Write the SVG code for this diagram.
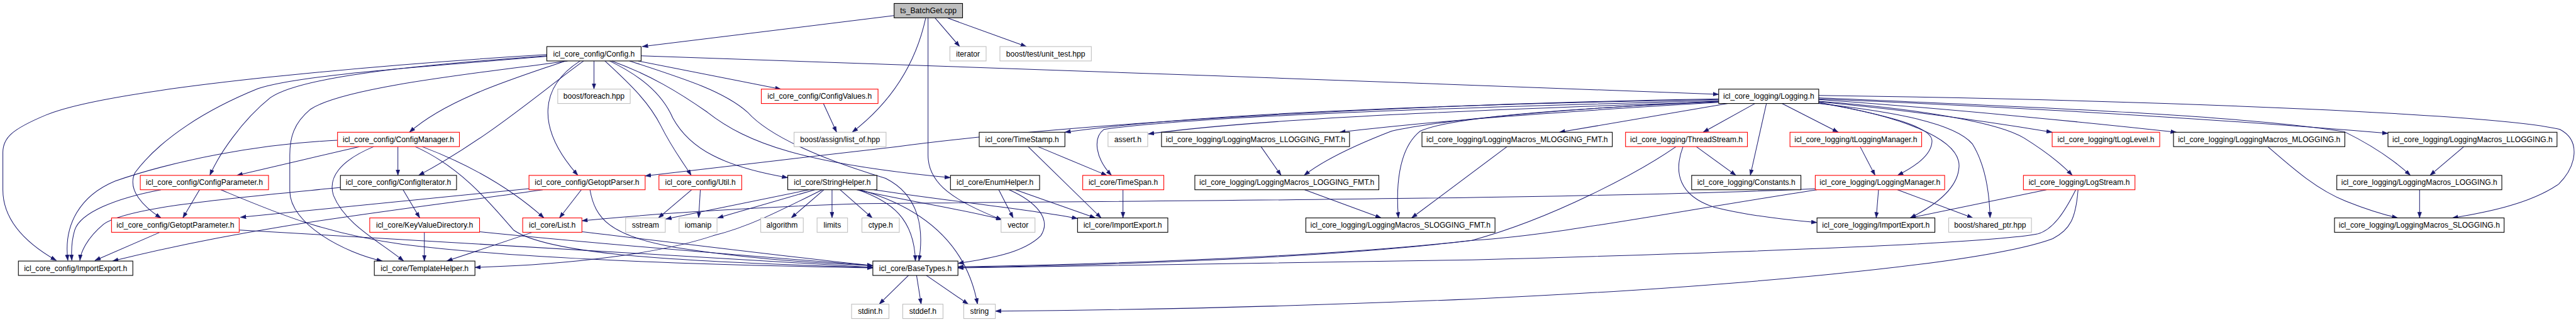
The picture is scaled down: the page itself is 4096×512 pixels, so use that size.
<svg xmlns="http://www.w3.org/2000/svg" width="4096" height="512" viewBox="0 0 4096 512">
<defs>
<style>
.n rect{fill:#fff;stroke:#000;stroke-width:1.2}
.n.red rect{stroke:#ff0000}
.n.ext rect{stroke:#bfbfbf}
.n.root rect{fill:#bfbfbf}
.n text{font-family:"Liberation Sans",Arial,sans-serif;font-size:13.3px;text-anchor:middle;fill:#000}
#edges path{fill:none;stroke:#191970;stroke-width:1.1;marker-end:url(#a)}
</style>
<marker id="a" markerUnits="userSpaceOnUse" markerWidth="11" markerHeight="8" refX="10" refY="3.5" orient="auto"><path d="M0,0 L10,3.5 L0,7 z" fill="#191970" stroke="#191970" stroke-width="0.5"/></marker>
</defs>
<rect width="4096" height="512" fill="#fff"/>
<g transform="scale(0.9142857)">
<g id="edges">
<path d="M1555,27 L1117,81"/>
<path d="M1610,31 C1595,100 1560,170 1482,230"/>
<path d="M1626,31 L1669,81"/>
<path d="M1647,31 L1785,81"/>
<path d="M1614,31 L1614,270 C1614,320 1660,350 1742,382"/>
<path d="M951,95 C700,110 200,150 80,200 C20,225 5,240 5,265 L5,330 C5,380 40,420 98,453"/>
<path d="M951,97 C700,115 520,135 470,170 C420,210 380,270 365,305"/>
<path d="M951,98 C750,115 520,130 449,154 C360,190 280,240 235,300 C220,330 250,360 280,379"/>
<path d="M987,106 C850,125 600,150 540,190 C510,215 504,240 504,270 L504,332 C504,390 600,440 665,454"/>
<path d="M983,106 C900,135 780,170 712,230"/>
<path d="M1015,106 C940,160 850,240 728,305"/>
<path d="M1009,106 C940,150 930,220 1005,305"/>
<path d="M1033,106 L1033,155"/>
<path d="M1052,106 C1100,150 1130,180 1150,220 C1170,260 1190,285 1202,305"/>
<path d="M1060,106 C1110,130 1150,160 1170,205 C1200,260 1260,290 1370,309"/>
<path d="M1064,106 C1130,130 1180,160 1230,195 C1300,250 1400,285 1653,309"/>
<path d="M1095,106 C1200,140 1260,160 1300,195 C1340,240 1440,280 1540,310 C1600,340 1607,400 1598,454"/>
<path d="M1110,106 L1358,155"/>
<path d="M1115,97 C1500,110 2500,145 2989,164"/>
<path d="M587,244 C450,250 300,280 200,315 C140,340 110,390 118,453"/>
<path d="M625,255 L412,305"/>
<path d="M692,255 L692,305"/>
<path d="M734,255 C800,280 880,320 946,379"/>
<path d="M722,255 C800,290 850,350 893,400 C950,440 1150,455 1518,465"/>
<path d="M650,255 C590,280 570,310 580,340 C600,390 660,420 702,454"/>
<path d="M280,330 C200,345 140,370 130,400 C124,420 124,440 125,453"/>
<path d="M347,330 L318,379"/>
<path d="M384,330 C480,370 560,405 700,425 C900,450 1200,460 1518,466"/>
<path d="M278,404 L165,453"/>
<path d="M416,400 C600,410 1100,440 1518,465"/>
<path d="M592,326 C400,345 220,360 180,390 C150,415 140,440 139,453"/>
<path d="M701,330 L730,379"/>
<path d="M920,328 L418,378"/>
<path d="M944,330 C700,365 450,390 196,454"/>
<path d="M1011,330 L973,379"/>
<path d="M1026,330 C1035,380 1060,410 1173,430 C1300,450 1420,458 1518,462"/>
<path d="M738,404 L738,454"/>
<path d="M834,403 C1000,420 1300,445 1518,462"/>
<path d="M926,404 L777,454"/>
<path d="M1012,403 C1200,425 1400,450 1518,462"/>
<path d="M1203,330 L1145,379"/>
<path d="M1218,330 L1215,379"/>
<path d="M1407,330 L1158,381"/>
<path d="M1417,330 L1248,379"/>
<path d="M1430,330 C1350,370 1300,395 1240,410 C1150,440 1000,460 826,465"/>
<path d="M1433,330 L1376,379"/>
<path d="M1447,330 L1447,379"/>
<path d="M1461,330 L1517,379"/>
<path d="M1490,330 C1580,350 1680,365 1743,382"/>
<path d="M1520,330 C1650,350 1800,365 1874,380"/>
<path d="M1492,330 C1550,350 1590,380 1592,454"/>
<path d="M1496,330 C1600,360 1680,420 1700,529"/>
<path d="M1737,330 L1762,379"/>
<path d="M1766,330 L1905,379"/>
<path d="M1755,330 C1800,350 1830,380 1810,410 C1780,440 1720,450 1666,458"/>
<path d="M1805,255 L1925,305"/>
<path d="M1788,255 L1915,379"/>
<path d="M1953,330 L1953,379"/>
<path d="M1432,180 L1455,230"/>
<path d="M2989,172 C2500,180 1900,210 1560,255 C1400,275 1250,290 1122,306"/>
<path d="M2989,173 C2600,180 2100,195 1852,230"/>
<path d="M2989,175 C2600,185 2100,200 1920,225 C1900,240 1905,275 1933,305"/>
<path d="M2989,177 C2600,190 2200,205 1997,233"/>
<path d="M2989,178 C2700,195 2500,210 2330,230"/>
<path d="M2989,176 C2700,190 2500,210 2420,228 C2350,255 2300,280 2268,305"/>
<path d="M2989,177 C2700,190 2520,205 2470,228 C2430,260 2428,330 2432,379"/>
<path d="M3005,180 L2712,230"/>
<path d="M3052,180 L2962,230"/>
<path d="M3072,180 L3044,305"/>
<path d="M3099,180 L3197,230"/>
<path d="M3163,178 C3280,200 3360,220 3360,245 C3360,270 3330,290 3300,305"/>
<path d="M3163,179 C3300,200 3410,240 3407,290 C3405,330 3360,360 3322,379"/>
<path d="M3163,180 C3300,195 3400,215 3430,250 C3455,290 3460,340 3461,379"/>
<path d="M3163,176 C3350,190 3480,215 3520,240 C3560,265 3585,285 3604,305"/>
<path d="M3163,177 C3350,195 3480,215 3569,230"/>
<path d="M3163,173 C3400,190 3650,215 3785,230"/>
<path d="M3163,172 C3600,190 3950,215 4153,232"/>
<path d="M3163,170 C3500,185 3900,200 4077,229 C4130,255 4165,280 4192,305"/>
<path d="M3163,166 C3800,175 4350,200 4452,225 C4490,245 4480,290 4450,320 C4400,355 4320,370 4265,379"/>
<path d="M2950,255 L3019,305"/>
<path d="M2927,255 C2910,300 2920,340 2980,360 C3040,375 3100,382 3160,387"/>
<path d="M2915,255 C2850,300 2700,380 2560,418 C2300,450 1900,462 1666,465"/>
<path d="M3235,255 L3261,305"/>
<path d="M3267,330 L3263,379"/>
<path d="M3300,330 L3431,379"/>
<path d="M3160,328 C2800,345 2000,350 1500,354 C1300,360 1100,375 1012,384"/>
<path d="M3160,330 C2900,370 2700,410 2560,418 C2300,448 1900,460 1666,464"/>
<path d="M3559,330 L3322,379"/>
<path d="M3610,330 C3590,370 3570,400 3543,407 C3450,425 3000,440 2560,452 C2200,460 1900,465 1666,466"/>
<path d="M3614,330 C3610,380 3600,400 3570,415 C3450,460 3000,500 2560,520 C2200,535 1900,540 1731,541"/>
<path d="M2621,255 L2455,379"/>
<path d="M2193,255 L2228,305"/>
<path d="M2269,330 L2402,379"/>
<path d="M3944,255 C3990,295 4030,330 4080,350 C4110,362 4140,372 4170,379"/>
<path d="M4285,255 L4226,305"/>
<path d="M4208,330 L4208,379"/>
<path d="M1580,479 L1529,529"/>
<path d="M1594,479 L1602,529"/>
<path d="M1611,479 L1684,529"/>
</g>
<g id="n_ts" class="n root"><rect x="1555" y="6" width="119" height="25"/><text x="1614.5" y="23">ts_BatchGet.cpp</text></g>
<g id="n_config" class="n"><rect x="951" y="81" width="164" height="25"/><text x="1033" y="98">icl_core_config/Config.h</text></g>
<g id="n_iterator" class="n ext"><rect x="1652" y="81" width="63" height="25"/><text x="1683.5" y="98">iterator</text></g>
<g id="n_unit_test" class="n ext"><rect x="1739" y="81" width="159" height="25"/><text x="1818.5" y="98">boost/test/unit_test.hpp</text></g>
<g id="n_foreach" class="n ext"><rect x="970" y="155" width="126" height="25"/><text x="1033" y="172">boost/foreach.hpp</text></g>
<g id="n_configvalues" class="n red"><rect x="1324" y="155" width="203" height="25"/><text x="1425.5" y="172">icl_core_config/ConfigValues.h</text></g>
<g id="n_logging" class="n"><rect x="2989" y="155" width="174" height="25"/><text x="3076" y="172">icl_core_logging/Logging.h</text></g>
<g id="n_configmanager" class="n red"><rect x="587" y="230" width="212" height="25"/><text x="693" y="247">icl_core_config/ConfigManager.h</text></g>
<g id="n_list_of" class="n ext"><rect x="1381" y="230" width="160" height="25"/><text x="1461" y="247">boost/assign/list_of.hpp</text></g>
<g id="n_timestamp" class="n"><rect x="1703" y="230" width="149" height="25"/><text x="1777.5" y="247">icl_core/TimeStamp.h</text></g>
<g id="n_assert" class="n ext"><rect x="1927" y="230" width="69" height="25"/><text x="1961.5" y="247">assert.h</text></g>
<g id="n_llogfmt" class="n"><rect x="2020" y="230" width="327" height="25"/><text x="2183.5" y="247">icl_core_logging/LoggingMacros_LLOGGING_FMT.h</text></g>
<g id="n_mlogfmt" class="n"><rect x="2473" y="230" width="331" height="25"/><text x="2638.5" y="247">icl_core_logging/LoggingMacros_MLOGGING_FMT.h</text></g>
<g id="n_threadstream" class="n red"><rect x="2827" y="230" width="212" height="25"/><text x="2933" y="247">icl_core_logging/ThreadStream.h</text></g>
<g id="n_tloggingmanager" class="n red"><rect x="3113" y="230" width="229" height="25"/><text x="3227.5" y="247">icl_core_logging/tLoggingManager.h</text></g>
<g id="n_tloglevel" class="n red"><rect x="3569" y="230" width="187" height="25"/><text x="3662.5" y="247">icl_core_logging/tLogLevel.h</text></g>
<g id="n_mlogging" class="n"><rect x="3780" y="230" width="298" height="25"/><text x="3929" y="247">icl_core_logging/LoggingMacros_MLOGGING.h</text></g>
<g id="n_llogging" class="n"><rect x="4153" y="230" width="294" height="25"/><text x="4300" y="247">icl_core_logging/LoggingMacros_LLOGGING.h</text></g>
<g id="n_configparameter" class="n red"><rect x="244" y="305" width="223" height="25"/><text x="355.5" y="322">icl_core_config/ConfigParameter.h</text></g>
<g id="n_configiterator" class="n"><rect x="592" y="305" width="202" height="25"/><text x="693" y="322">icl_core_config/ConfigIterator.h</text></g>
<g id="n_getoptparser" class="n red"><rect x="920" y="305" width="202" height="25"/><text x="1021" y="322">icl_core_config/GetoptParser.h</text></g>
<g id="n_util" class="n red"><rect x="1146" y="305" width="144" height="25"/><text x="1218" y="322">icl_core_config/Util.h</text></g>
<g id="n_stringhelper" class="n"><rect x="1370" y="305" width="155" height="25"/><text x="1447.5" y="322">icl_core/StringHelper.h</text></g>
<g id="n_enumhelper" class="n"><rect x="1653" y="305" width="155" height="25"/><text x="1730.5" y="322">icl_core/EnumHelper.h</text></g>
<g id="n_timespan" class="n red"><rect x="1883" y="305" width="141" height="25"/><text x="1953.5" y="322">icl_core/TimeSpan.h</text></g>
<g id="n_loggingfmt" class="n"><rect x="2078" y="305" width="320" height="25"/><text x="2238" y="322">icl_core_logging/LoggingMacros_LOGGING_FMT.h</text></g>
<g id="n_constants" class="n"><rect x="2942" y="305" width="190" height="25"/><text x="3037" y="322">icl_core_logging/Constants.h</text></g>
<g id="n_loggingmanager" class="n red"><rect x="3157" y="305" width="225" height="25"/><text x="3269.5" y="322">icl_core_logging/LoggingManager.h</text></g>
<g id="n_logstream" class="n red"><rect x="3519" y="305" width="194" height="25"/><text x="3616" y="322">icl_core_logging/LogStream.h</text></g>
<g id="n_logging_macros" class="n"><rect x="4064" y="305" width="287" height="25"/><text x="4207.5" y="322">icl_core_logging/LoggingMacros_LOGGING.h</text></g>
<g id="n_getoptparameter" class="n red"><rect x="194" y="379" width="222" height="25"/><text x="305" y="396">icl_core_config/GetoptParameter.h</text></g>
<g id="n_kvd" class="n red"><rect x="643" y="379" width="191" height="25"/><text x="738.5" y="396">icl_core/KeyValueDirectory.h</text></g>
<g id="n_list" class="n red"><rect x="909" y="379" width="103" height="25"/><text x="960.5" y="396">icl_core/List.h</text></g>
<g id="n_sstream" class="n ext"><rect x="1088" y="379" width="69" height="25"/><text x="1122.5" y="396">sstream</text></g>
<g id="n_iomanip" class="n ext"><rect x="1181" y="379" width="66" height="25"/><text x="1214" y="396">iomanip</text></g>
<g id="n_algorithm" class="n ext"><rect x="1323" y="379" width="74" height="25"/><text x="1360" y="396">algorithm</text></g>
<g id="n_limits" class="n ext"><rect x="1421" y="379" width="53" height="25"/><text x="1447.5" y="396">limits</text></g>
<g id="n_ctype" class="n ext"><rect x="1499" y="379" width="65" height="25"/><text x="1531.5" y="396">ctype.h</text></g>
<g id="n_vector" class="n ext"><rect x="1741" y="379" width="59" height="25"/><text x="1770.5" y="396">vector</text></g>
<g id="n_core_ie" class="n"><rect x="1874" y="379" width="157" height="25"/><text x="1952.5" y="396">icl_core/ImportExport.h</text></g>
<g id="n_slogfmt" class="n"><rect x="2271" y="379" width="329" height="25"/><text x="2435.5" y="396">icl_core_logging/LoggingMacros_SLOGGING_FMT.h</text></g>
<g id="n_logging_ie" class="n"><rect x="3160" y="379" width="205" height="25"/><text x="3262.5" y="396">icl_core_logging/ImportExport.h</text></g>
<g id="n_shared_ptr" class="n ext"><rect x="3389" y="379" width="144" height="25"/><text x="3461" y="396">boost/shared_ptr.hpp</text></g>
<g id="n_slogging" class="n"><rect x="4060" y="379" width="295" height="25"/><text x="4207.5" y="396">icl_core_logging/LoggingMacros_SLOGGING.h</text></g>
<g id="n_config_ie" class="n"><rect x="32" y="454" width="199" height="25"/><text x="131.5" y="471">icl_core_config/ImportExport.h</text></g>
<g id="n_templatehelper" class="n"><rect x="651" y="454" width="175" height="25"/><text x="738.5" y="471">icl_core/TemplateHelper.h</text></g>
<g id="n_basetypes" class="n"><rect x="1518" y="454" width="148" height="25"/><text x="1592" y="471">icl_core/BaseTypes.h</text></g>
<g id="n_stdint" class="n ext"><rect x="1481" y="529" width="65" height="25"/><text x="1513.5" y="546">stdint.h</text></g>
<g id="n_stddef" class="n ext"><rect x="1570" y="529" width="70" height="25"/><text x="1605" y="546">stddef.h</text></g>
<g id="n_string" class="n ext"><rect x="1676" y="529" width="55" height="25"/><text x="1703.5" y="546">string</text></g>
</g>
</svg>
